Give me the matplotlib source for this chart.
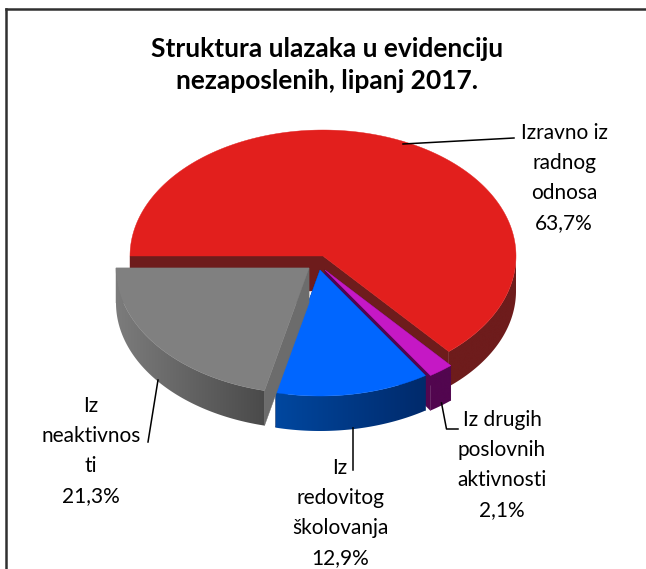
import numpy as np
import matplotlib
matplotlib.use("Agg")
import matplotlib.pyplot as plt
from matplotlib.colors import LinearSegmentedColormap
from matplotlib.patches import Polygon

plt.rcParams['font.family'] = ['Lato', 'DejaVu Sans']

# podaci
kategorije = ['Izravno iz\nradnog\nodnosa', 'Iz drugih\nposlovnih\naktivnosti',
              'Iz\nredovitog\nškolovanja', 'Iz\nneaktivnos\nti']
udjeli = [63.7, 2.1, 12.9, 21.3]
naslov = 'Struktura ulazaka u evidenciju\nnezaposlenih, lipanj 2017.'

# izgled kriski
gornje = ['#E21F1D', '#C518C5', '#0066FF', '#808080']
bocne_l = ['#6E1C1C', '#52064F', '#00479F', '#7C7C7C']
bocne_d = ['#6E1C1C', '#52064F', '#002A6B', '#4A4A4A']
rezovi = ['#6E1C1C', '#52064F', '#002A6B', '#6C6C6C']
pomak = [(323, 256), (325, 270), (320, 270), (309, 268)]
pozicije = [(564, 178), (502, 465), (340, 513), (91, 451)]
linije = [[(403, 144), (514, 138)],
          [(441.5, 403), (446.5, 429), (458, 429)],
          [(353, 428), (353, 470)],
          [(158, 380), (148, 442)]]

RX, RY, DUB = 193, 126, 35
POCETAK = 180

fig = plt.figure(figsize=(6.46, 5.69), dpi=100)
ax = fig.add_axes([0, 0, 1, 1])
ax.set_xlim(0, 646)
ax.set_ylim(569, 0)
ax.autoscale(False)
ax.axis('off')


def tocka(c, kut):
    a = np.radians(kut)
    return c[0] + RX * np.cos(a), c[1] + RY * np.sin(-a)


kutovi = POCETAK - np.cumsum([0] + udjeli) * 3.6

for i in range(len(udjeli)):
    c = pomak[i]
    k1, k2 = kutovi[i], kutovi[i + 1]
    z = i + 1

    # rezovi prema sredini
    for k in (k1, k2):
        p = tocka(c, k)
        rez = [c, p, (p[0], p[1] + DUB), (c[0], c[1] + DUB)]
        ax.add_patch(Polygon(rez, closed=True, fc=rezovi[i], ec=rezovi[i], lw=0.3, zorder=z))

    # vanjski rub, samo prednja strana
    k_od = min(k1, 0)
    k_do = max(k2, -180)
    luk = np.linspace(k_od, k_do, 120)
    gore = [tocka(c, k) for k in luk]
    dolje = [(x, y + DUB) for x, y in gore]
    rub = Polygon(gore + dolje[::-1], closed=True, transform=ax.transData)
    xs = [p[0] for p in gore]
    ys = [p[1] for p in gore] + [p[1] for p in dolje]
    cm = LinearSegmentedColormap.from_list('rub', [bocne_l[i], bocne_d[i]])
    grad = np.linspace(0, 1, 256)[None, :]
    im = ax.imshow(grad, cmap=cm, aspect='auto', zorder=z,
                   extent=(min(xs), max(xs), max(ys), min(ys)))
    im.set_clip_path(rub)

    # gornja ploha
    luk = np.linspace(k1, k2, 200)
    vrh = [c] + [tocka(c, k) for k in luk]
    ax.add_patch(Polygon(vrh, closed=True, fc=gornje[i], ec=gornje[i], lw=0.3, zorder=z + 0.5))

# natpisi
for i in range(len(udjeli)):
    tekst = kategorije[i] + '\n' + f'{udjeli[i]:.1f}%'.replace('.', ',')
    ax.text(pozicije[i][0], pozicije[i][1], tekst, ha='center', va='center',
            fontsize=15, linespacing=1.62, color='black', zorder=7)

for l in linije:
    x = [p[0] for p in l]
    y = [p[1] for p in l]
    ax.plot(x, y, color='black', lw=1.1, zorder=6)

ax.text(327, 65, naslov, ha='center', va='center', fontsize=19, fontweight='bold',
        linespacing=1.4, color='black', zorder=7)

# okvir
ax.plot([6, 6], [569, 9], color='#303030', lw=1.8, zorder=8)
ax.plot([6, 646], [9, 9], color='#303030', lw=1.8, zorder=8)

plt.savefig('out.png', dpi=100)
